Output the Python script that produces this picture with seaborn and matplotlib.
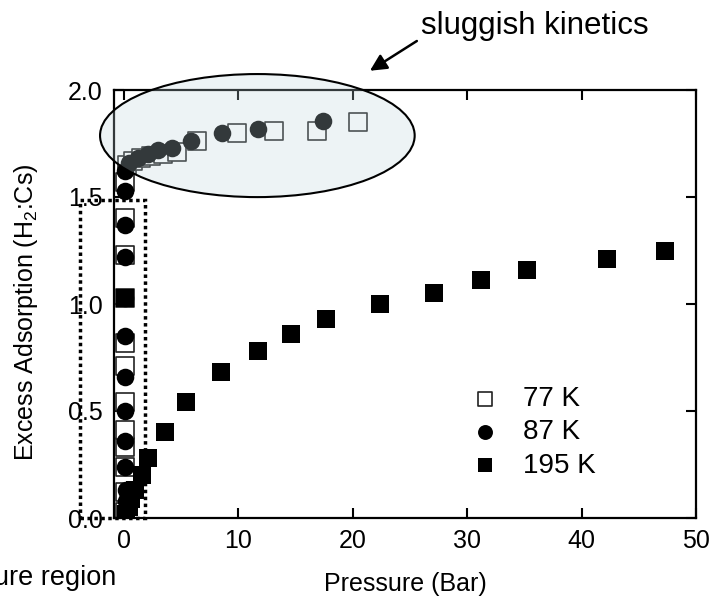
import pandas as pd
import matplotlib
matplotlib.use("Agg")
import matplotlib.pyplot as plt
from matplotlib.patches import Ellipse, Rectangle
import seaborn as sns

# Excess adsorption of H2 on Cs
p_77 = [0.1, 0.1, 0.1, 0.1, 0.1, 0.1, 0.1, 0.1, 0.1, 0.1, 0.1, 0.1,
        0.3, 0.8, 1.5, 2.4, 3.4, 4.6, 6.4, 9.9, 13.1, 16.9, 20.5]
n_77 = [0.03, 0.12, 0.24, 0.33, 0.41, 0.54, 0.71, 0.82, 1.03, 1.23, 1.40, 1.57,
        1.65, 1.67, 1.68, 1.69, 1.70, 1.71, 1.76, 1.80, 1.81, 1.81, 1.85]

p_87 = [0.15, 0.2, 0.15, 0.1, 0.1, 0.1, 0.1, 0.1, 0.1, 0.1, 0.1, 0.1, 0.1,
        0.4, 1.2, 2.1, 3.0, 4.2, 5.9, 8.6, 11.7, 17.4]
n_87 = [0.03, 0.08, 0.13, 0.24, 0.36, 0.50, 0.66, 0.85, 1.03, 1.22, 1.37, 1.53, 1.62,
        1.66, 1.68, 1.70, 1.72, 1.73, 1.76, 1.80, 1.82, 1.855]

p_195 = [0.1, 0.2, 0.4, 0.6, 1.0, 1.6, 2.1, 3.6, 5.4, 8.5, 11.7, 14.6,
         17.7, 22.4, 27.1, 31.2, 35.2, 42.2, 47.3]
n_195 = [1.03, 0.02, 0.05, 0.09, 0.13, 0.20, 0.28, 0.40, 0.54, 0.68, 0.78, 0.86,
         0.93, 1.00, 1.05, 1.11, 1.16, 1.21, 1.25]

df77 = pd.DataFrame({"P": p_77, "n": n_77})
df87 = pd.DataFrame({"P": p_87, "n": n_87})
df195 = pd.DataFrame({"P": p_195, "n": n_195})

sns.set_style("ticks")
plt.rcParams["font.family"] = ["Liberation Sans", "DejaVu Sans"]
plt.rcParams["mathtext.fontset"] = "custom"
plt.rcParams["mathtext.rm"] = "Liberation Sans"
plt.rcParams["mathtext.default"] = "regular"
for key in ["text.color", "axes.labelcolor", "xtick.color", "ytick.color", "axes.edgecolor"]:
    plt.rcParams[key] = "black"

fig = plt.figure(figsize=(7.09, 5.97), dpi=100)
ax = fig.add_axes([114 / 709, 79 / 597, 582 / 709, 428 / 597])

sns.scatterplot(data=df77, x="P", y="n", ax=ax, marker="s", s=150,
                color="white", edgecolor="#222222", linewidth=1.2,
                label="77 K", zorder=3)
sns.scatterplot(data=df87, x="P", y="n", ax=ax, marker="o", s=160,
                color="black", edgecolor="black", linewidth=0,
                label="87 K", zorder=4)
sns.scatterplot(data=df195, x="P", y="n", ax=ax, marker="s", s=150,
                color="black", edgecolor="black", linewidth=0,
                label="195 K", zorder=5)

ax.set_xlim(-0.87, 50)
ax.set_ylim(0, 2.0)
ax.set_xticks([0, 10, 20, 30, 40, 50])
ax.set_yticks([0.0, 0.5, 1.0, 1.5, 2.0])
ax.set_yticklabels(["0.0", "0.5", "1.0", "1.5", "2.0"])
ax.tick_params(direction="in", length=7, width=1.5, labelsize=18,
               top=True, right=True, pad=8, colors="black")
for sp in ax.spines.values():
    sp.set_linewidth(1.6)
    sp.set_visible(True)

ax.set_xlabel("Pressure (Bar)", fontsize=18)
ax.set_ylabel("Excess Adsorption (H$_2$:Cs)", fontsize=18)
ax.xaxis.set_label_coords(0.5, -0.125)
ax.yaxis.set_label_coords(-0.128, 0.48)

# shaded ellipse marking the slow region
ell = Ellipse((11.66, 1.787), 27.5, 0.575, facecolor=(0.75, 0.83, 0.86, 0.27),
              edgecolor="black", linewidth=1.5, clip_on=False, zorder=6)
ax.add_patch(ell)

# dotted box around the low pressure points
box = Rectangle((-3.84, 0), 5.67, 1.486, fill=False, edgecolor="black",
                linewidth=2.5, linestyle=(0, (1, 1)), clip_on=False, zorder=7)
ax.add_patch(box)

ax.annotate("", xy=(21.5, 2.09), xytext=(25.6, 2.229),
            arrowprops=dict(arrowstyle="-|>", color="black", lw=1.8,
                            mutation_scale=25, shrinkA=0, shrinkB=0),
            annotation_clip=False)
ax.text(35.9, 2.297, "sluggish kinetics", fontsize=22.5, ha="center", va="center")

fig.text(116 / 709, 12 / 597, "Low pressure region", fontsize=19.5,
         ha="right", va="baseline")

ax.legend(loc="upper left", bbox_to_anchor=(0.614, 0.308), frameon=False,
          fontsize=20, handlelength=1.0, handletextpad=0.85, borderpad=0,
          labelspacing=0.26, markerscale=0.85, borderaxespad=0)

fig.savefig("out.png", dpi=100)
